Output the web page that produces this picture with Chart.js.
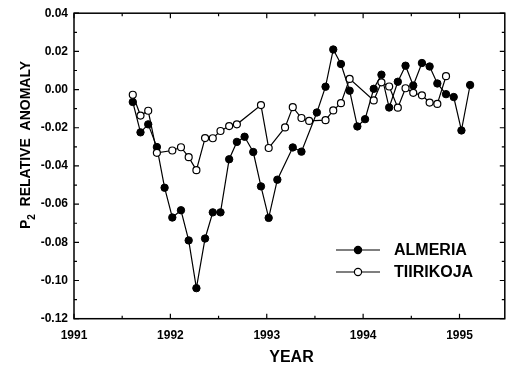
<!DOCTYPE html>
<html><head><meta charset="utf-8">
<script src="https://cdn.jsdelivr.net/npm/chart.js@4/dist/chart.umd.min.js"></script>
<style>html,body{margin:0;padding:0;background:#fff;}#wrap{width:510px;height:368px;}</style>
</head><body><div id="wrap"><canvas id="c" width="510" height="368"></canvas></div>
<script>
// Decimal year of each monthly sample
const years = [1991.61,1991.69,1991.77,1991.86,1991.94,1992.02,1992.11,1992.19,1992.27,1992.36,
  1992.44,1992.52,1992.61,1992.69,1992.77,1992.86,1992.94,1993.02,1993.11,1993.19,
  1993.27,1993.36,1993.44,1993.52,1993.61,1993.69,1993.77,1993.86,1993.94,1994.02,
  1994.11,1994.19,1994.27,1994.36,1994.44,1994.52,1994.61,1994.69,1994.77,1994.86,
  1994.94,1995.02,1995.11];
const almeria = [-0.0065,-0.0224,-0.0182,-0.0301,-0.0514,-0.0670,-0.0632,-0.0790,-0.1040,-0.0780,
  -0.0643,-0.0643,-0.0365,-0.0274,-0.0247,-0.0327,-0.0507,-0.0672,-0.0472,null,
  -0.0303,-0.0325,null,-0.0120,0.0015,0.0210,0.0134,-0.0006,-0.0193,-0.0155,
  0.0004,0.0078,-0.0094,0.0041,0.0125,0.0021,0.0139,0.0121,0.0032,-0.0024,
  -0.0039,-0.0214,0.0024];
const tiirikoja = [-0.0027,-0.0136,-0.0111,-0.0331,null,-0.0319,-0.0302,-0.0354,-0.0422,-0.0254,
  -0.0255,-0.0217,-0.0191,-0.0182,null,null,-0.0081,-0.0306,null,-0.0198,
  -0.0092,-0.0149,-0.0164,null,-0.0160,-0.0109,-0.0071,0.0056,null,null,
  -0.0057,0.0038,0.0016,-0.0095,0.0007,-0.0017,-0.0030,-0.0068,-0.0075,0.0070,
  null,null,null];
const seriesNames = ['ALMERIA','TIIRIKOJA'];
const xTicks = [1991,1992,1993,1994,1995];
const xMinor = [1991.5,1992.5,1993.5,1994.5];
const yTicks = [-0.12,-0.10,-0.08,-0.06,-0.04,-0.02,0,0.02,0.04];
const yMinor = [-0.11,-0.09,-0.07,-0.05,-0.03,-0.01,0.01,0.03];
const xTitle = 'YEAR';
const yTitleMain = 'P';
const yTitleSub = '2';
const yTitleRest = '  RELATIVE  ANOMALY';

const FONT = '"Liberation Sans", Arial, Helvetica, sans-serif';

const framePlugin = {
  id: 'frame',
  beforeDatasetsDraw(chart) {
    const {ctx, chartArea: a, scales: {x, y}} = chart;
    ctx.save();
    ctx.strokeStyle = '#000';
    ctx.lineWidth = 1.5;
    ctx.strokeRect(a.left, a.top, a.right - a.left, a.bottom - a.top);
    ctx.lineWidth = 1.2;
    ctx.beginPath();
    const tick = (vals, len, isX) => {
      vals.forEach(v => {
        if (isX) {
          const px = x.getPixelForValue(v);
          ctx.moveTo(px, a.bottom); ctx.lineTo(px, a.bottom - len);
          ctx.moveTo(px, a.top); ctx.lineTo(px, a.top + len);
        } else {
          const py = y.getPixelForValue(v);
          ctx.moveTo(a.left, py); ctx.lineTo(a.left + len, py);
          ctx.moveTo(a.right, py); ctx.lineTo(a.right - len, py);
        }
      });
    };
    tick(xTicks, 5, true); tick(xMinor, 3, true);
    tick(yTicks, 5, false); tick(yMinor, 3, false);
    ctx.stroke();
    ctx.restore();
  },
  afterDraw(chart) {
    const {ctx} = chart;
    ctx.save();
    ctx.fillStyle = '#000';
    // x title
    ctx.font = 'bold 16px ' + FONT;
    ctx.textAlign = 'center';
    ctx.textBaseline = 'middle';
    ctx.fillText(xTitle, 291.5, 358);
    // y title with subscript
    ctx.translate(26.5, 145);
    ctx.rotate(-Math.PI / 2);
    ctx.textAlign = 'left';
    ctx.font = 'bold 14px ' + FONT;
    const wP = ctx.measureText(yTitleMain).width;
    const wR = ctx.measureText(yTitleRest).width;
    ctx.font = 'bold 10px ' + FONT;
    const wS = ctx.measureText(yTitleSub).width;
    const total = wP + wS + wR;
    let sx = -total / 2;
    ctx.font = 'bold 14px ' + FONT;
    ctx.fillText(yTitleMain, sx, 0); sx += wP;
    ctx.font = 'bold 10px ' + FONT;
    ctx.fillText(yTitleSub, sx, 6); sx += wS;
    ctx.font = 'bold 14px ' + FONT;
    ctx.fillText(yTitleRest, sx, 0);
    ctx.restore();

    // legend
    ctx.save();
    const rows = [
      {name: seriesNames[0], y: 250, fill: '#000'},
      {name: seriesNames[1], y: 272, fill: '#fff'}
    ];
    rows.forEach(r => {
      ctx.strokeStyle = '#000';
      ctx.lineWidth = 1.2;
      ctx.beginPath(); ctx.moveTo(336, r.y); ctx.lineTo(380, r.y); ctx.stroke();
      ctx.beginPath(); ctx.arc(358, r.y, 3.6, 0, Math.PI * 2);
      ctx.fillStyle = r.fill; ctx.fill(); ctx.stroke();
      ctx.fillStyle = '#000';
      ctx.font = 'bold 16px ' + FONT;
      ctx.textAlign = 'left'; ctx.textBaseline = 'middle';
      ctx.fillText(r.name, 394, r.y + 1);
    });
    ctx.restore();
  }
};

const mk = arr => years.map((yr, i) => ({x: yr, y: arr[i]}));

new Chart(document.getElementById('c'), {
  type: 'line',
  data: {
    datasets: [
      {label: seriesNames[1], data: mk(tiirikoja), borderColor: '#000', borderWidth: 1.2,
       backgroundColor: '#fff', pointBackgroundColor: '#fff', pointBorderColor: '#000',
       pointBorderWidth: 1.2, pointRadius: 3.5, spanGaps: true, tension: 0},
      {label: seriesNames[0], data: mk(almeria), borderColor: '#000', borderWidth: 1.2,
       backgroundColor: '#000', pointBackgroundColor: '#000', pointBorderColor: '#000',
       pointBorderWidth: 1, pointRadius: 3.7, spanGaps: true, tension: 0}
    ]
  },
  options: {
    responsive: false,
    devicePixelRatio: 1,
    animation: false,
    layout: {padding: {left: 0, right: 3, top: 11.5, bottom: 0}},
    plugins: {legend: {display: false}, tooltip: {enabled: false}},
    scales: {
      x: {
        type: 'linear', min: 1991, max: 1995.47,
        grid: {display: false, drawTicks: false},
        border: {display: false},
        afterBuildTicks: s => { s.ticks = xTicks.map(v => ({value: v})); },
        afterFit: s => { s.height = 49.3; },
        ticks: {autoSkip: false, maxRotation: 0, padding: 9.5, color: '#000',
                font: {family: FONT, size: 12, weight: 'bold'}, callback: v => String(v)}
      },
      y: {
        type: 'linear', min: -0.12, max: 0.04,
        grid: {display: false, drawTicks: false},
        border: {display: false},
        afterBuildTicks: s => { s.ticks = yTicks.map(v => ({value: v})); },
        afterFit: s => { s.width = 74; },
        ticks: {autoSkip: false, padding: 6, color: '#000',
                font: {family: FONT, size: 12, weight: 'bold'}, callback: v => Number(v).toFixed(2)}
      }
    }
  },
  plugins: [framePlugin]
});
</script>
</body></html>
